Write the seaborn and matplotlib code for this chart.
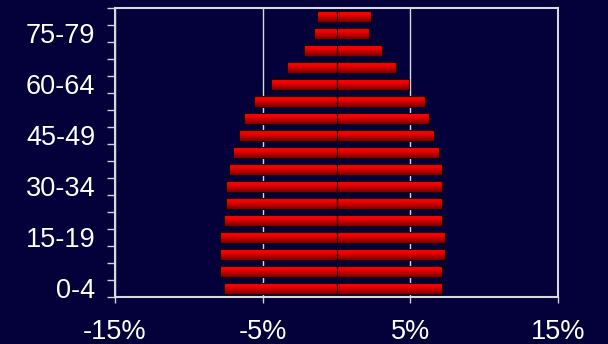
import numpy as np
import pandas as pd
import matplotlib
matplotlib.use("Agg")
import matplotlib.pyplot as plt
import seaborn as sns
from matplotlib.colors import LinearSegmentedColormap

age_groups = ["0-4", "5-9", "10-14", "15-19", "20-24", "25-29", "30-34", "35-39",
              "40-44", "45-49", "50-54", "55-59", "60-64", "65-69", "70-74", "75-79", "80+"]
male = [-7.62, -7.86, -7.86, -7.86, -7.62, -7.47, -7.47, -7.28, -7.0,
        -6.63, -6.29, -5.61, -4.45, -3.38, -2.17, -1.55, -1.34]
female = [7.13, 7.13, 7.31, 7.31, 7.13, 7.13, 7.13, 7.13, 6.94,
          6.60, 6.29, 5.97, 4.93, 4.03, 3.07, 2.20, 2.36]
shown_labels = ["0-4", "15-19", "30-34", "45-49", "60-64", "75-79"]
x_ticks = [-15, -5, 5, 15]

bg = "#03003a"
fg = "#ffffff"

sns.set_style("dark")
plt.rcParams["font.family"] = ["Liberation Sans", "DejaVu Sans"]

df = pd.DataFrame({"age": age_groups, "male": male, "female": female})
order = age_groups[::-1]  # oldest at top

fig = plt.figure(figsize=(6.08, 3.44), dpi=100, facecolor=bg)
ax = fig.add_axes([0.189, 0.137, 0.729, 0.840])
ax.set_facecolor(bg)

sns.barplot(data=df, x="male", y="age", order=order, orient="h",
            color="red", width=0.66, edgecolor="#1a0000", linewidth=0.8, ax=ax)
sns.barplot(data=df, x="female", y="age", order=order, orient="h",
            color="red", width=0.66, edgecolor="#1a0000", linewidth=0.8, ax=ax)

# shaded red fill like the original 3d-ish bars
shade = LinearSegmentedColormap.from_list(
    "bar_shade", [(0.0, "#b00000"), (0.15, "#ff0000"), (0.4, "#f00000"), (1.0, "#7a0000")])
grad = np.linspace(0, 1, 64).reshape(-1, 1)
for p in list(ax.patches):
    x0, y0, w, h = p.get_x(), p.get_y(), p.get_width(), p.get_height()
    im = ax.imshow(grad, cmap=shade, aspect="auto", origin="upper",
                   extent=[x0, x0 + w, y0 + h, y0], zorder=2, interpolation="bilinear")
    im.set_clip_path(p)
    p.set_facecolor("none")
    p.set_zorder(3)

ax.set_xlim(-15, 15)
ax.set_ylim(len(order) - 0.5, -0.5)

ax.set_xticks(x_ticks)
ax.set_xticklabels([f"{t}%" for t in x_ticks])
ax.set_yticks([order.index(a) for a in shown_labels])
ax.set_yticklabels(shown_labels)
ax.set_yticks(np.arange(-0.5, len(order), 1.0), minor=True)

ax.tick_params(axis="x", colors="#d0d0dc", labelcolor=fg, labelsize=19.5,
               length=4, width=1, pad=12, direction="out", bottom=True)
ax.tick_params(axis="y", which="major", length=0, labelcolor=fg, labelsize=19.5, pad=14)
ax.tick_params(axis="y", which="minor", colors="#d0d0dc", length=6, width=1,
               direction="out", left=True)

ax.grid(axis="x", color="#d8d8e0", linewidth=1)
ax.grid(axis="y", visible=False)
ax.set_axisbelow(True)
for s in ax.spines.values():
    s.set_visible(True)
    s.set_color("#d8d8e0")
    s.set_linewidth(1.5)

ax.set_xlabel("")
ax.set_ylabel("")

fig.savefig("out.png", dpi=100, facecolor=bg)
